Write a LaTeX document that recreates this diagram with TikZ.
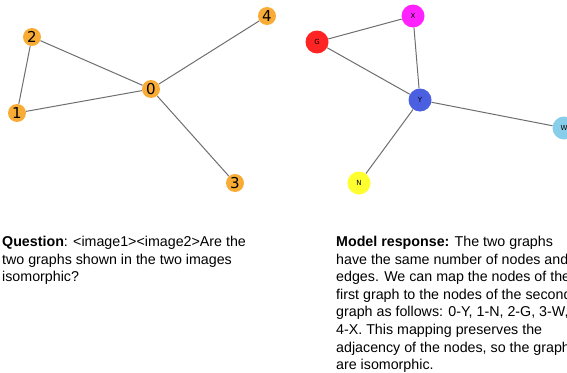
\documentclass[tikz,border=0pt]{standalone}
\usepackage{fontspec}
\setmainfont{Liberation Sans}
\newfontfamily\labelfont{DejaVu Sans}
\definecolor{nodeorange}{HTML}{F9AC35}
\definecolor{nodered}{HTML}{FF2424}
\definecolor{nodemagenta}{HTML}{FF22FF}
\definecolor{nodeblue}{HTML}{4A60E0}
\definecolor{nodesky}{HTML}{88CEEB}
\definecolor{nodeyellow}{HTML}{FFFF30}
\definecolor{edgegray}{HTML}{6E6E6E}

\begin{document}
\begin{tikzpicture}[x=1pt,y=-1pt]
\tikzstyle{vnum}=[circle,fill=nodeorange,inner sep=0pt,minimum size=18pt,font=\labelfont\fontsize{15}{15}\selectfont]
\tikzstyle{vlet}=[circle,inner sep=0pt,minimum size=23pt,font=\labelfont\fontsize{7}{7}\selectfont]
\tikzstyle{edge}=[draw=edgegray,line width=1pt]
\tikzstyle{para}=[anchor=north west,inner sep=0pt,align=left,font=\fontsize{14.25}{17.6}\selectfont]
\clip (0,0) rectangle (567,372);
\useasboundingbox (0,0) rectangle (567,372);
% first graph
\node[vnum] (n0) at (151,89) {0};
\node[vnum] (n1) at (17,113) {1};
\node[vnum] (n2) at (32,37) {2};
\node[vnum] (n3) at (235,183) {3};
\node[vnum] (n4) at (267,16) {4};
% second graph
\node[vlet,fill=nodeblue] (y) at (420,100) {Y};
\node[vlet,fill=nodeyellow] (n) at (359,183) {N};
\node[vlet,fill=nodered] (g) at (317,42) {G};
\node[vlet,fill=nodesky] (w) at (564,128) {W};
\node[vlet,fill=nodemagenta] (x) at (413,16) {X};
% edges
\draw[edge] (n2) -- (n1);
\draw[edge] (n2) -- (n0);
\draw[edge] (n1) -- (n0);
\draw[edge] (n0) -- (n4);
\draw[edge] (n0) -- (n3);
\draw[edge] (g) -- (x);
\draw[edge] (g) -- (y);
\draw[edge] (x) -- (y);
\draw[edge] (y) -- (w);
\draw[edge] (y) -- (n);
% texts
\node[para] (question) at (2,236) {\textbf{Question}: <image1><image2>Are the\\
two graphs shown in the two images\\
isomorphic?};
\node[para] (answer) at (336,236) {\textbf{Model response:} The two graphs\\
have the same number of nodes and\\
edges. We can map the nodes of the\\
first graph to the nodes of the second\\
graph as follows: 0-Y, 1-N, 2-G, 3-W,\\
4-X. This mapping preserves the\\
adjacency of the nodes, so the graphs\\
are isomorphic.};
\end{tikzpicture}
\end{document}
